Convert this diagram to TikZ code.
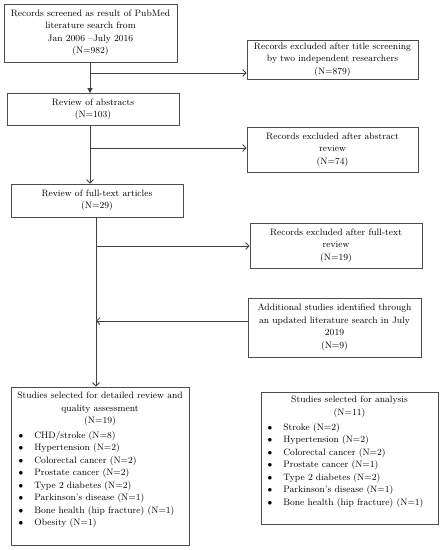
\documentclass[tikz,border=0pt]{standalone}
\usetikzlibrary{arrows.meta}
\begin{document}
\begin{tikzpicture}[x=1pt,y=-1pt,
  box/.style={draw=black!70, line width=0.8pt, inner sep=0pt},
  txt/.style={align=center, inner sep=0pt, font=\fontsize{9.3}{12.5}\selectfont},
  lst/.style={align=left, inner sep=0pt, anchor=north west, font=\fontsize{9.3}{12.5}\selectfont},
  conn/.style={draw=black!75, line width=0.8pt},
  openarr/.style={conn, -{Straight Barb[length=3.5pt,width=7pt]}},
  fillarr/.style={conn, -{Triangle[length=5pt,width=5pt]}}]
\useasboundingbox[fill=white] (0,0) rectangle (443,550);

% boxes
\node[box, minimum width=173, minimum height=58, txt] (b1) at (90.5,33)
  {Records screened as result of PubMed\\literature search from\\Jan 2006 --July 2016\\(N=982)};
\node[box, minimum width=171, minimum height=39, txt] (e1) at (332.5,59.5)
  {Records excluded after title screening\\by two independent researchers\\(N=879)};
\node[box, minimum width=172, minimum height=32, txt] (b2) at (93,109.5)
  {Review of abstracts\\(N=103)};
\node[box, minimum width=171, minimum height=45, txt] (e2) at (332.5,149.5)
  {Records excluded after abstract\\review\\(N=74)};
\node[box, minimum width=172, minimum height=33, txt] (b3) at (97,200.5)
  {Review of full-text articles\\(N=29)};
\node[box, minimum width=172, minimum height=45, txt] (e3) at (336,245.5)
  {Records excluded after full-text\\review\\(N=19)};
\node[box, minimum width=173, minimum height=59, txt] (ad) at (334.5,327.5)
  {Additional studies identified through\\an updated literature search in July\\2019\\(N=9)};
\node[box, minimum width=178, minimum height=158] (fin) at (100,466) {};
\node[box, minimum width=177, minimum height=132] (an) at (349.5,458) {};

% texts in the last two boxes
\node[txt, anchor=north] (fint) at (100,392)
  {Studies selected for detailed review and\\quality assessment\\(N=19)};
\node[lst] (finl) at (18.5,429.5)
  {\begin{tabular}{@{}l@{\hspace{11pt}}l@{}}
   $\bullet$ & CHD/stroke (N=8)\\
   $\bullet$ & Hypertension (N=2)\\
   $\bullet$ & Colorectal cancer (N=2)\\
   $\bullet$ & Prostate cancer (N=2)\\
   $\bullet$ & Type 2 diabetes (N=2)\\
   $\bullet$ & Parkinson's disease (N=1)\\
   $\bullet$ & Bone health (hip fracture) (N=1)\\
   $\bullet$ & Obesity (N=1)
   \end{tabular}};
\node[txt, anchor=north] (ant) at (349.5,396)
  {Studies selected for analysis\\(N=11)};
\node[lst] (anl) at (267.5,421.5)
  {\begin{tabular}{@{}l@{\hspace{11pt}}l@{}}
   $\bullet$ & Stroke (N=2)\\
   $\bullet$ & Hypertension (N=2)\\
   $\bullet$ & Colorectal cancer (N=2)\\
   $\bullet$ & Prostate cancer (N=1)\\
   $\bullet$ & Type 2 diabetes (N=2)\\
   $\bullet$ & Parkinson's disease (N=1)\\
   $\bullet$ & Bone health (hip fracture) (N=1)
   \end{tabular}};

% junctions
\coordinate (j1) at (90,73);
\coordinate (j2) at (90,148);
\coordinate (j3) at (96,246);
\coordinate (j4) at (96,321);

% connectors
\draw[fillarr] (b1.south -| j1) -- (j1 |- b2.north);
\draw[openarr] (j1) -- (j1 -| e1.west);
\draw[openarr] (b2.south -| j2) -- (j2 |- b3.north);
\draw[openarr] (j2) -- (j2 -| e2.west);
\draw[openarr] (b3.south -| j3) -- (j3 |- fin.north);
\draw[openarr] (j3) -- (j3 -| e3.west);
\draw[openarr] (j4 -| ad.west) -- (j4);
\end{tikzpicture}
\end{document}
